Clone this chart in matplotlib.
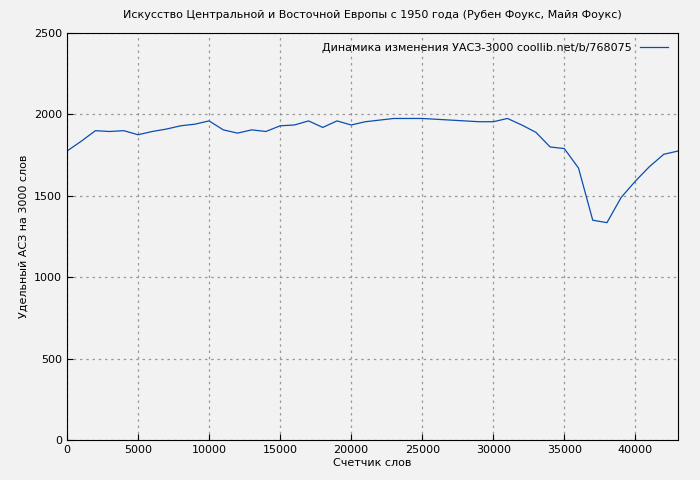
import matplotlib
matplotlib.use("Agg")
import matplotlib.pyplot as plt

words = list(range(0, 44000, 1000))
values = [1775, 1835, 1900, 1895, 1900, 1875, 1895, 1910, 1930, 1940, 1960, 1905, 1885, 1905, 1895,
          1930, 1935, 1960, 1920, 1960, 1935, 1955, 1965, 1975, 1975, 1975, 1970, 1965, 1960, 1955,
          1955, 1975, 1935, 1890, 1800, 1790, 1670, 1350, 1335, 1490, 1590, 1680, 1755, 1775]

fig = plt.figure(figsize=(7, 4.8), dpi=100)
fig.patch.set_facecolor("#f2f2f2")
ax = fig.add_axes([67/700, 40/480, 611/700, 407/480])
ax.set_facecolor("#f2f2f2")
ax.plot(words, values, color="#0a4db0", lw=0.9, label="Динамика изменения УАСЗ-3000 coollib.net/b/768075")
ax.set_xlim(0, 43000)
ax.set_ylim(0, 2500)
ax.set_xticks(range(0, 43000, 5000))
ax.set_yticks(range(0, 2501, 500))
ax.grid(True, color="#999999", ls=(0, (2, 3)), lw=0.9)
ax.tick_params(labelsize=8, direction="in", length=4)
ax.set_title("Искусство Центральной и Восточной Европы с 1950 года (Рубен Фоукс, Майя Фоукс)", fontsize=8, pad=11)
ax.set_xlabel("Счетчик слов", fontsize=8, labelpad=2)
ax.set_ylabel("Удельный АСЗ на 3000 слов", fontsize=8)
ax.legend(loc="upper right", fontsize=8, frameon=False, markerfirst=False, handlelength=2.5)
fig.savefig("out.png", dpi=100, facecolor=fig.get_facecolor())
